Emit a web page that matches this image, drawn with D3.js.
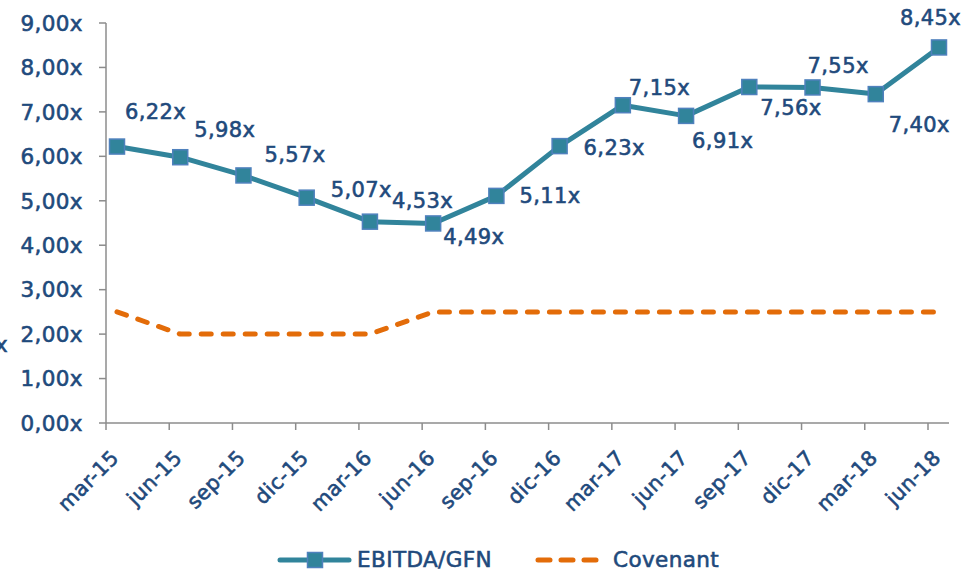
<!DOCTYPE html>
<html>
<head>
<meta charset="utf-8">
<script src="https://cdn.jsdelivr.net/npm/d3@7"></script>
<style>
  body { margin: 0; background: #fff; }
  svg text {
    font-family: "DejaVu Sans", sans-serif;
    fill: #1F4A7C;
    stroke: #1F4A7C;
    stroke-width: 0.6px;
    letter-spacing: 0.4px;
  }
</style>
</head>
<body>
<svg id="chart" width="979" height="575"></svg>
<script>
// ---------------- data ----------------
var quarters = ["mar-15","jun-15","sep-15","dic-15","mar-16","jun-16","sep-16",
                "dic-16","mar-17","jun-17","sep-17","dic-17","mar-18","jun-18"];
var ebitdaGfn = [6.22, 5.98, 5.57, 5.07, 4.53, 4.49, 5.11, 6.23, 7.15, 6.91, 7.56, 7.55, 7.40, 8.45];
var covenant = [2.5, 2.0, 2.0, 2.0, 2.0, 2.5, 2.5, 2.5, 2.5, 2.5, 2.5, 2.5, 2.5, 2.5];
var yTicks = [0, 1, 2, 3, 4, 5, 6, 7, 8, 9];

// label placement (px offset from the point), layout only
var labelOffsets = [[8,-28],[14,-20],[21,-13],[24,-1],[22,-14],[10,21],[23,7],
                    [24,9],[6,-10],[6,32],[11,28],[-5,-14],[13,38],[-39,-22]];

var fmt = function(v){ return v.toFixed(2).replace(".", ",") + "x"; };

// ---------------- scales ----------------
var svg = d3.select("#chart");
var x = d3.scalePoint().domain(quarters).range([117, 939]);
var y = d3.scaleLinear().domain([0, 9]).range([423, 23]);
var tickShift = -11;   // excel puts ticks a bit left of the points

var teal = "#31849B", orange = "#E36C09", axisGrey = "#8C8C8C";

// ---------------- axes ----------------
var yAxis = svg.append("g");
yAxis.append("line")
  .attr("x1", 106).attr("x2", 106)
  .attr("y1", y(9)).attr("y2", y(0))
  .attr("stroke", axisGrey).attr("stroke-width", 1.5);
yAxis.selectAll(".ytick")
  .data(yTicks)
  .enter()
  .append("line")
    .attr("x1", 99).attr("x2", 106)
    .attr("y1", d => y(d)).attr("y2", d => y(d))
    .attr("stroke", axisGrey).attr("stroke-width", 1.5);
yAxis.selectAll(".ylab")
  .data(yTicks)
  .enter()
  .append("text")
    .attr("x", 83)
    .attr("y", d => y(d))
    .attr("dy", "0.36em")
    .attr("text-anchor", "end")
    .style("font-size", "21.5px")
    .text(d => fmt(d));

var xAxis = svg.append("g");
xAxis.append("line")
  .attr("x1", 106).attr("x2", 949)
  .attr("y1", y(0)).attr("y2", y(0))
  .attr("stroke", axisGrey).attr("stroke-width", 1.5);
xAxis.selectAll(".xtick")
  .data(quarters)
  .enter()
  .append("line")
    .attr("x1", d => x(d) + tickShift).attr("x2", d => x(d) + tickShift)
    .attr("y1", y(0)).attr("y2", y(0) + 7)
    .attr("stroke", axisGrey).attr("stroke-width", 1.5);
xAxis.selectAll(".xlab")
  .data(quarters)
  .enter()
  .append("text")
    .attr("transform", d => `translate(${x(d) + tickShift + 14}, ${y(0) + 36}) rotate(-45)`)
    .attr("text-anchor", "end")
    .style("font-size", "20.5px")
    .text(d => d);

// stray clipped axis title on left edge
svg.append("text")
  .attr("x", 8).attr("y", 352)
  .attr("text-anchor", "end")
  .style("font-size", "21.5px")
  .text("x");

// ---------------- covenant ----------------
var covLine = d3.line()
  .x((d, i) => x(quarters[i]))
  .y(d => y(d));

svg.append("path")
  .datum(covenant)
  .attr("d", covLine)
  .attr("fill", "none")
  .attr("stroke", orange)
  .attr("stroke-width", 5)
  .attr("stroke-linecap", "round")
  .attr("stroke-dasharray", "10,12");

// ---------------- EBITDA/GFN ----------------
var ebLine = d3.line()
  .x((d, i) => x(quarters[i]))
  .y(d => y(d));

svg.append("path")
  .datum(ebitdaGfn)
  .attr("d", ebLine)
  .attr("fill", "none")
  .attr("stroke", teal)
  .attr("stroke-width", 5)
  .attr("stroke-linejoin", "round");

svg.selectAll(".marker")
  .data(ebitdaGfn)
  .enter()
  .append("rect")
    .attr("x", (d, i) => x(quarters[i]) - 7.5)
    .attr("y", d => y(d) - 7.5)
    .attr("width", 15).attr("height", 15)
    .attr("fill", teal)
    .attr("stroke", "#4F81BD")
    .attr("stroke-width", 1.5);

svg.selectAll(".dlabel")
  .data(ebitdaGfn)
  .enter()
  .append("text")
    .attr("x", (d, i) => x(quarters[i]) + labelOffsets[i][0])
    .attr("y", (d, i) => y(d) + labelOffsets[i][1])
    .style("font-size", "21px")
    .text(d => fmt(d));

// ---------------- legend ----------------
var legend = svg.append("g");
legend.append("line")
  .attr("x1", 280).attr("x2", 349).attr("y1", 560).attr("y2", 560)
  .attr("stroke", teal).attr("stroke-width", 5).attr("stroke-linecap", "round");
legend.append("rect")
  .attr("x", 307.5).attr("y", 552.5).attr("width", 15).attr("height", 15)
  .attr("fill", teal).attr("stroke", "#4F81BD").attr("stroke-width", 1.5);
legend.append("text")
  .attr("x", 357).attr("y", 567)
  .style("font-size", "21.5px")
  .text("EBITDA/GFN");
legend.append("line")
  .attr("x1", 538).attr("x2", 597).attr("y1", 560).attr("y2", 560)
  .attr("stroke", orange).attr("stroke-width", 5).attr("stroke-linecap", "round")
  .attr("stroke-dasharray", "12,11");
legend.append("text")
  .attr("x", 613).attr("y", 567)
  .style("font-size", "21.5px")
  .text("Covenant");
</script>
</body>
</html>
